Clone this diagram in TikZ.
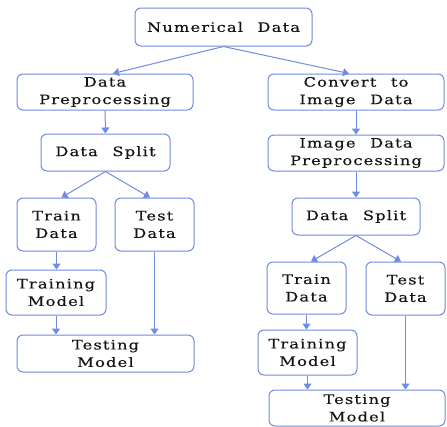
\documentclass[tikz,border=0pt]{standalone}
\usepackage{fontspec}
\newfontfamily\bfam[LetterSpace=9,WordSpace=2.3,FakeStretch=1.25,FakeBold=0.2]{DejaVu Serif}
\usetikzlibrary{arrows.meta}
\definecolor{bx}{RGB}{112,140,224}
\tikzset{
  box/.style={draw=bx, line width=1pt, rounded corners=6pt, fill=white, align=center,
    font=\bfam\fontsize{13}{17.5}\selectfont, text=black!92, inner sep=0pt},
  arr/.style={draw=bx, line width=1pt, -{Triangle[width=8pt,length=6pt]}}
}
\begin{document}
\begin{tikzpicture}[x=1pt,y=-1pt]
\useasboundingbox (0,0) rectangle (447,426);
\node[box, minimum width=177pt, minimum height=38pt] (num) at (223.5,27) {Numerical Data};
\node[box, minimum width=176pt, minimum height=36pt] (dpre) at (105,92) {Data\\Preprocessing};
\node[box, minimum width=176pt, minimum height=36pt] (conv) at (356,92) {Convert to\\Image Data};
\node[box, minimum width=129pt, minimum height=37pt] (dsl) at (105.5,152.5) {Data Split};
\node[box, minimum width=176pt, minimum height=36pt] (ipre) at (356,153) {Image Data\\Preprocessing};
\node[box, minimum width=128pt, minimum height=37pt] (dsr) at (356,216.5) {Data Split};
\node[box, minimum width=79pt, minimum height=53pt] (trl) at (56.5,224.5) {Train\\Data};
\node[box, minimum width=79pt, minimum height=53pt] (tel) at (154.5,224.5) {Test\\Data};
\node[box, minimum width=100pt, minimum height=45pt] (tml) at (56,292.5) {Training\\Model};
\node[box, minimum width=177pt, minimum height=37pt] (tsl) at (105.5,353.5) {Testing\\Model};
\node[box, minimum width=79pt, minimum height=52pt] (trr) at (306.5,288) {Train\\Data};
\node[box, minimum width=79pt, minimum height=53pt] (ter) at (405.5,288.5) {Test\\Data};
\node[box, minimum width=99pt, minimum height=45pt] (tmr) at (307.5,352.5) {Training\\Model};
\node[box, minimum width=176pt, minimum height=36pt] (tsr) at (357,408) {Testing\\Model};
\draw[arr] (num.south) -- ([xshift=8pt]dpre.north);
\draw[arr] (num.south) -- ([xshift=-7pt]conv.north);
\draw[arr] (dpre) -- (dsl);
\draw[arr] (conv) -- (ipre);
\draw[arr] (ipre) -- (dsr);
\draw[arr] (dsl.south) -- ([xshift=5pt]trl.north);
\draw[arr] (dsl.south) -- ([xshift=-4.5pt]tel.north);
\draw[arr] (dsr.south) -- ([xshift=4.5pt]trr.north);
\draw[arr] (dsr.south) -- ([xshift=-4.5pt]ter.north);
\draw[arr] (trl.south) -- (trl.south |- tml.north);
\draw[arr] (tml.south) -- (tml.south |- tsl.north);
\draw[arr] (tel.south) -- (tel.south |- tsl.north);
\draw[arr] (trr.south) -- (trr.south |- tmr.north);
\draw[arr] (tmr.south) -- (tmr.south |- tsr.north);
\draw[arr] (ter.south) -- (ter.south |- tsr.north);
\end{tikzpicture}
\end{document}
